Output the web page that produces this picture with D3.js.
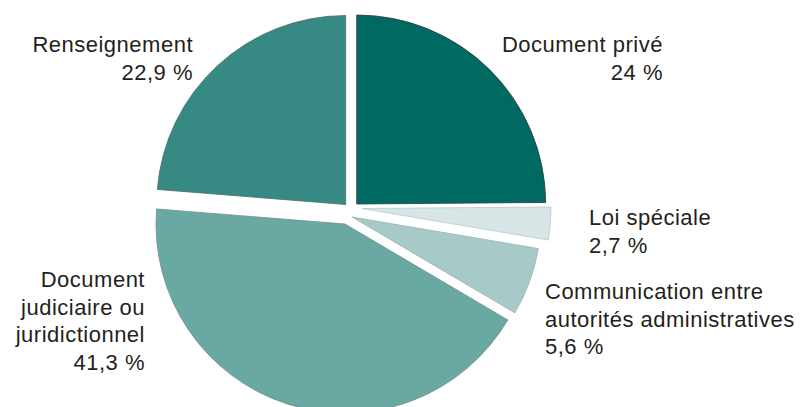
<!DOCTYPE html>
<html>
<head>
<meta charset="utf-8">
<script src="https://cdn.jsdelivr.net/npm/d3@7"></script>
<style>
  body { margin: 0; background: #fff; }
  svg { display: block; }
  .lbl { font-family: "Liberation Sans", Arial, sans-serif; font-size: 22px; fill: #231f20; letter-spacing: 0.5px; }
</style>
</head>
<body>
<svg id="chart" width="803" height="407"></svg>
<script>
// slices, clockwise from 12 o'clock
var categories = ["Document privé", "Loi spéciale", "Communication entre autorités administratives",
                  "Document judiciaire ou juridictionnel", "Renseignement"];
var values = [24, 2.7, 5.6, 41.3, 22.9];
var valueLabels = ["24 %", "2,7 %", "5,6 %", "41,3 %", "22,9 %"];
// how the label text is broken on lines
var labelLines = [["Document privé"], ["Loi spéciale"], ["Communication entre", "autorités administratives"],
                  ["Document", "judiciaire ou", "juridictionnel"], ["Renseignement"]];

var W = 803, H = 407;
var cx = 351, cy = 212, R = 189;
// exploded slice offsets, px
var explode = [[5.7, -8], [11, -3.5], [1, 5], [-6, 12], [-5.3, -7.5]];
var fills = ["#006a62", "#d6e6e6", "#a7c9c7", "#6aa8a4", "#378a83"];
var strokes = ["#2b3b39", "#b9c9c9", "#9ab3b1", "#6f8f8d", "#4f6f6c"];

// label anchor: x, first baseline, text-anchor
var labelPos = [
  {x: 663, y: 52, a: "end"},
  {x: 589, y: 225, a: "start"},
  {x: 545, y: 299, a: "start"},
  {x: 145, y: 287, a: "end"},
  {x: 193, y: 52, a: "end"}
];
var lineH = 27.7;

var svg = d3.select("#chart");

var pie = d3.pie().sort(null).value(function(d) { return d; });
var arc = d3.arc().innerRadius(0).outerRadius(R);

var arcs = pie(values);

svg.selectAll(".slice")
  .data(arcs)
  .enter().append("path")
  .attr("class", "slice")
  .attr("transform", function(d, i) {
    return "translate(" + (cx + explode[i][0]) + "," + (cy + explode[i][1]) + ")";
  })
  .attr("d", arc)
  .attr("fill", function(d, i) { return fills[i]; })
  .attr("stroke", function(d, i) { return strokes[i]; })
  .attr("stroke-width", 0.8);

var g = svg.selectAll(".label")
  .data(categories)
  .enter().append("text")
  .attr("class", "lbl")
  .attr("text-anchor", function(d, i) { return labelPos[i].a; });

g.each(function(d, i) {
  var t = d3.select(this);
  var lines = labelLines[i].concat([valueLabels[i]]);
  lines.forEach(function(s, k) {
    t.append("tspan")
      .attr("x", labelPos[i].x)
      .attr("y", labelPos[i].y + k * lineH)
      .text(s);
  });
});
</script>
</body>
</html>
